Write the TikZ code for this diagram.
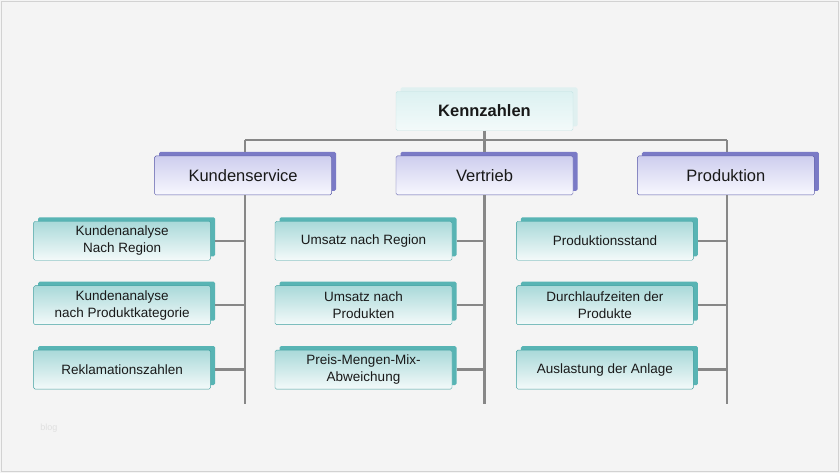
\documentclass[tikz,border=0pt]{standalone}
\usepackage{fontspec}
\setmainfont{Liberation Sans}
\usepackage{xcolor}
\usepackage{tikz}
\usetikzlibrary{positioning, shadows}

\definecolor{hgrund}{HTML}{F4F4F4}
\definecolor{linienfarbe}{HTML}{878787}
\definecolor{hauptrand}{HTML}{C6E4E4}
\definecolor{hauptoben}{HTML}{DCF1F1}
\definecolor{hauptunten}{HTML}{F3FAFA}
\definecolor{bereichrand}{HTML}{5A5AA8}
\definecolor{bereichkante}{HTML}{7A7AC6}
\definecolor{bereichoben}{HTML}{CDCDEE}
\definecolor{bereichunten}{HTML}{F8F8FE}
\definecolor{kennrand}{HTML}{3FA0A0}
\definecolor{kennkante}{HTML}{58B4B4}
\definecolor{kennoben}{HTML}{A9D9D9}
\definecolor{kennunten}{HTML}{F4FAFA}

\begin{document}
\begin{tikzpicture}[x=1pt, y=1pt,
  hauptbox/.style={draw=hauptrand, rectangle, rounded corners=1.5pt, top color=hauptoben, bottom color=hauptunten,
    general shadow={shadow xshift=4.5pt, shadow yshift=4pt, fill=hauptrand!55}, minimum width=177pt, minimum height=39pt,
    font=\fontsize{16.5}{19}\selectfont\bfseries, text=black!90},
  bereichbox/.style={draw=bereichrand, rectangle, rounded corners=1.5pt, top color=bereichoben, bottom color=bereichunten,
    general shadow={shadow xshift=4.5pt, shadow yshift=4pt, fill=bereichkante}, minimum width=177pt, minimum height=39pt,
    font=\fontsize{16.5}{19}\selectfont, text=black!90},
  kennbox/.style={draw=kennrand, rectangle, rounded corners=1.5pt, top color=kennoben, bottom color=kennunten,
    general shadow={shadow xshift=4.5pt, shadow yshift=4pt, fill=kennkante}, minimum width=177pt, minimum height=39pt,
    align=center, inner sep=2pt, font=\fontsize{13.5}{17}\selectfont, text=black!90},
  linie/.style={draw=linienfarbe, line width=2.5pt}]
% Hintergrund
\fill[hgrund] (0,0) rectangle (840,473);
\draw[gray!35, line width=1pt] (1.5,1.5) rectangle (838.5,471.5);
\node (wasserzeichen) at (49,45) [text=gray!25, font=\fontsize{9}{10}\selectfont] {blog};

% Ebene 1 und 2
\node (kennzahlen) at (484.5,362) [hauptbox] {Kennzahlen};
\node (vertrieb) [below=25pt of kennzahlen, bereichbox] {Vertrieb};
\node (kundenservice) [left=64pt of vertrieb, bereichbox] {Kundenservice};
\node (produktion) [right=64pt of vertrieb, bereichbox] {Produktion};

% Kundenservice
\node (ks1) [below=26pt of kundenservice, xshift=-121pt, kennbox] {Kundenanalyse\\Nach Region};
\node (ks2) [below=25pt of ks1, kennbox] {Kundenanalyse\\nach Produktkategorie};
\node (ks3) [below=25pt of ks2, kennbox] {Reklamationszahlen};

% Vertrieb
\node (vt1) [below=26pt of vertrieb, xshift=-121pt, kennbox] {Umsatz nach Region};
\node (vt2) [below=25pt of vt1, kennbox] {Umsatz nach\\Produkten};
\node (vt3) [below=25pt of vt2, kennbox] {Preis-Mengen-Mix-\\Abweichung};

% Produktion
\node (pr1) [below=26pt of produktion, xshift=-121pt, kennbox] {Produktionsstand};
\node (pr2) [below=25pt of pr1, kennbox] {Durchlaufzeiten der\\Produkte};
\node (pr3) [below=25pt of pr2, kennbox] {Auslastung der Anlage};

% Verbindungen
\coordinate (balken) at ([yshift=15.5pt]vertrieb.north);
\coordinate (ende) at ([yshift=-15pt]ks3.south);
\draw[linie] (kennzahlen.south) -- (kennzahlen.south |- balken);
\draw[linie] ([xshift=2pt]kundenservice.north |- balken) -- ([xshift=1pt]produktion.north |- balken);
\foreach \b/\d in {kundenservice/2pt, vertrieb/0pt, produktion/1pt}
  \draw[linie] ([xshift=\d]\b.north |- balken) -- ([xshift=\d, yshift=4pt]\b.north);
\foreach \b/\k/\d in {kundenservice/ks/2pt, vertrieb/vt/0pt, produktion/pr/1pt} {
  \draw[linie] ([xshift=\d]\b.south) -- ([xshift=\d]\b.south |- ende);
  \foreach \i in {1,2,3}
    \draw[linie] ([xshift=4.5pt]\k\i.east) -- ([xshift=\d]\k\i.east -| \b.south);
}
\end{tikzpicture}
\end{document}
